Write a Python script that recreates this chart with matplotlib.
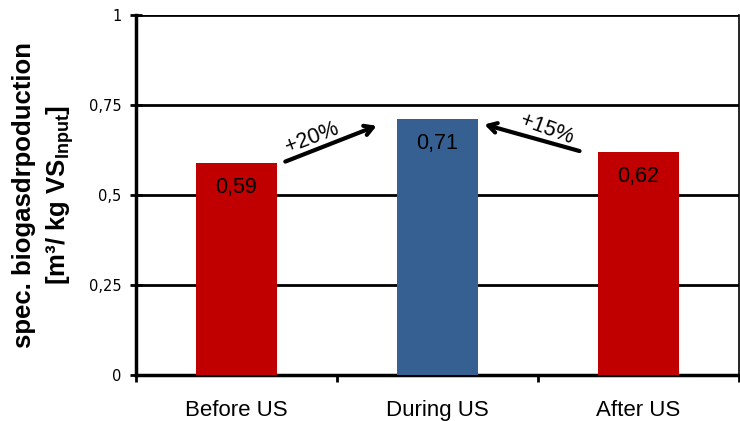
import matplotlib

matplotlib.use("Agg")
import matplotlib.pyplot as plt
import numpy as np

categories = ["Before US", "During US", "After US"]
values = [0.59, 0.71, 0.62]
value_labels = ["0,59", "0,71", "0,62"]
bar_colors = ["#C00000", "#376092", "#C00000"]
y_ticks = [0, 0.25, 0.5, 0.75, 1]
y_tick_labels = ["0", "0,25", "0,5", "0,75", "1"]
increase_labels = ["+20%", "+15%"]

fig = plt.figure(figsize=(7.40, 4.21), dpi=100)
ax = fig.add_axes([136 / 740, 46 / 421, 603 / 740, 360 / 421])

x = np.arange(len(categories))
ax.bar(x, values, width=0.4, color=bar_colors, zorder=3)

for xi, v, lab in zip(x, values, value_labels):
    ax.text(xi, v - 0.068, lab, ha="center", va="center", fontsize=15.5,
            family="Liberation Sans", zorder=4)

ax.set_xlim(-0.5, 2.5)
ax.set_ylim(0, 1)

# horizontal grid lines (also closes the frame at the top)
for yv in y_ticks[1:]:
    ax.axhline(yv, color="black", linewidth=2, zorder=1)

ax.set_yticks(y_ticks)
ax.set_yticklabels(y_tick_labels, fontsize=10.5, family="DejaVu Sans")
ax.tick_params(axis="y", direction="inout", length=9, width=2, pad=6)

ax.set_xticks(x)
ax.set_xticklabels(categories, fontsize=16, family="Liberation Sans")
ax.tick_params(axis="x", which="major", length=0, pad=18)
ax.set_xticks([-0.5, 0.5, 1.5, 2.5], minor=True)
ax.tick_params(axis="x", which="minor", direction="out", length=5, width=2)

for side in ["left", "bottom"]:
    ax.spines[side].set_linewidth(2.5)
ax.spines["top"].set_visible(False)
ax.spines["right"].set_linewidth(1.2)

ax.set_ylabel("spec. biogasdrpoduction\n[m³/ kg VS$_{\\mathregular{Input}}$]",
              fontsize=18.5, fontweight="bold", family="Liberation Sans",
              linespacing=1.4, labelpad=9)

# increase arrows between bars
ax.annotate("", xy=(1 - 0.29, 0.695), xytext=(0.23, 0.59),
            arrowprops=dict(arrowstyle="->,head_length=0.6,head_width=0.35",
                            color="black", lw=3), zorder=5)
ax.text(0.375, 0.66, increase_labels[0], rotation=21, ha="center", va="center",
        fontsize=15.5, family="Liberation Sans", zorder=5)

ax.annotate("", xy=(1.22, 0.698), xytext=(1.72, 0.62),
            arrowprops=dict(arrowstyle="->,head_length=0.6,head_width=0.35",
                            color="black", lw=3), zorder=5)
ax.text(1.545, 0.683, increase_labels[1], rotation=-20, ha="center", va="center",
        fontsize=15.5, family="Liberation Sans", zorder=5)

fig.savefig("out.png", dpi=100)
